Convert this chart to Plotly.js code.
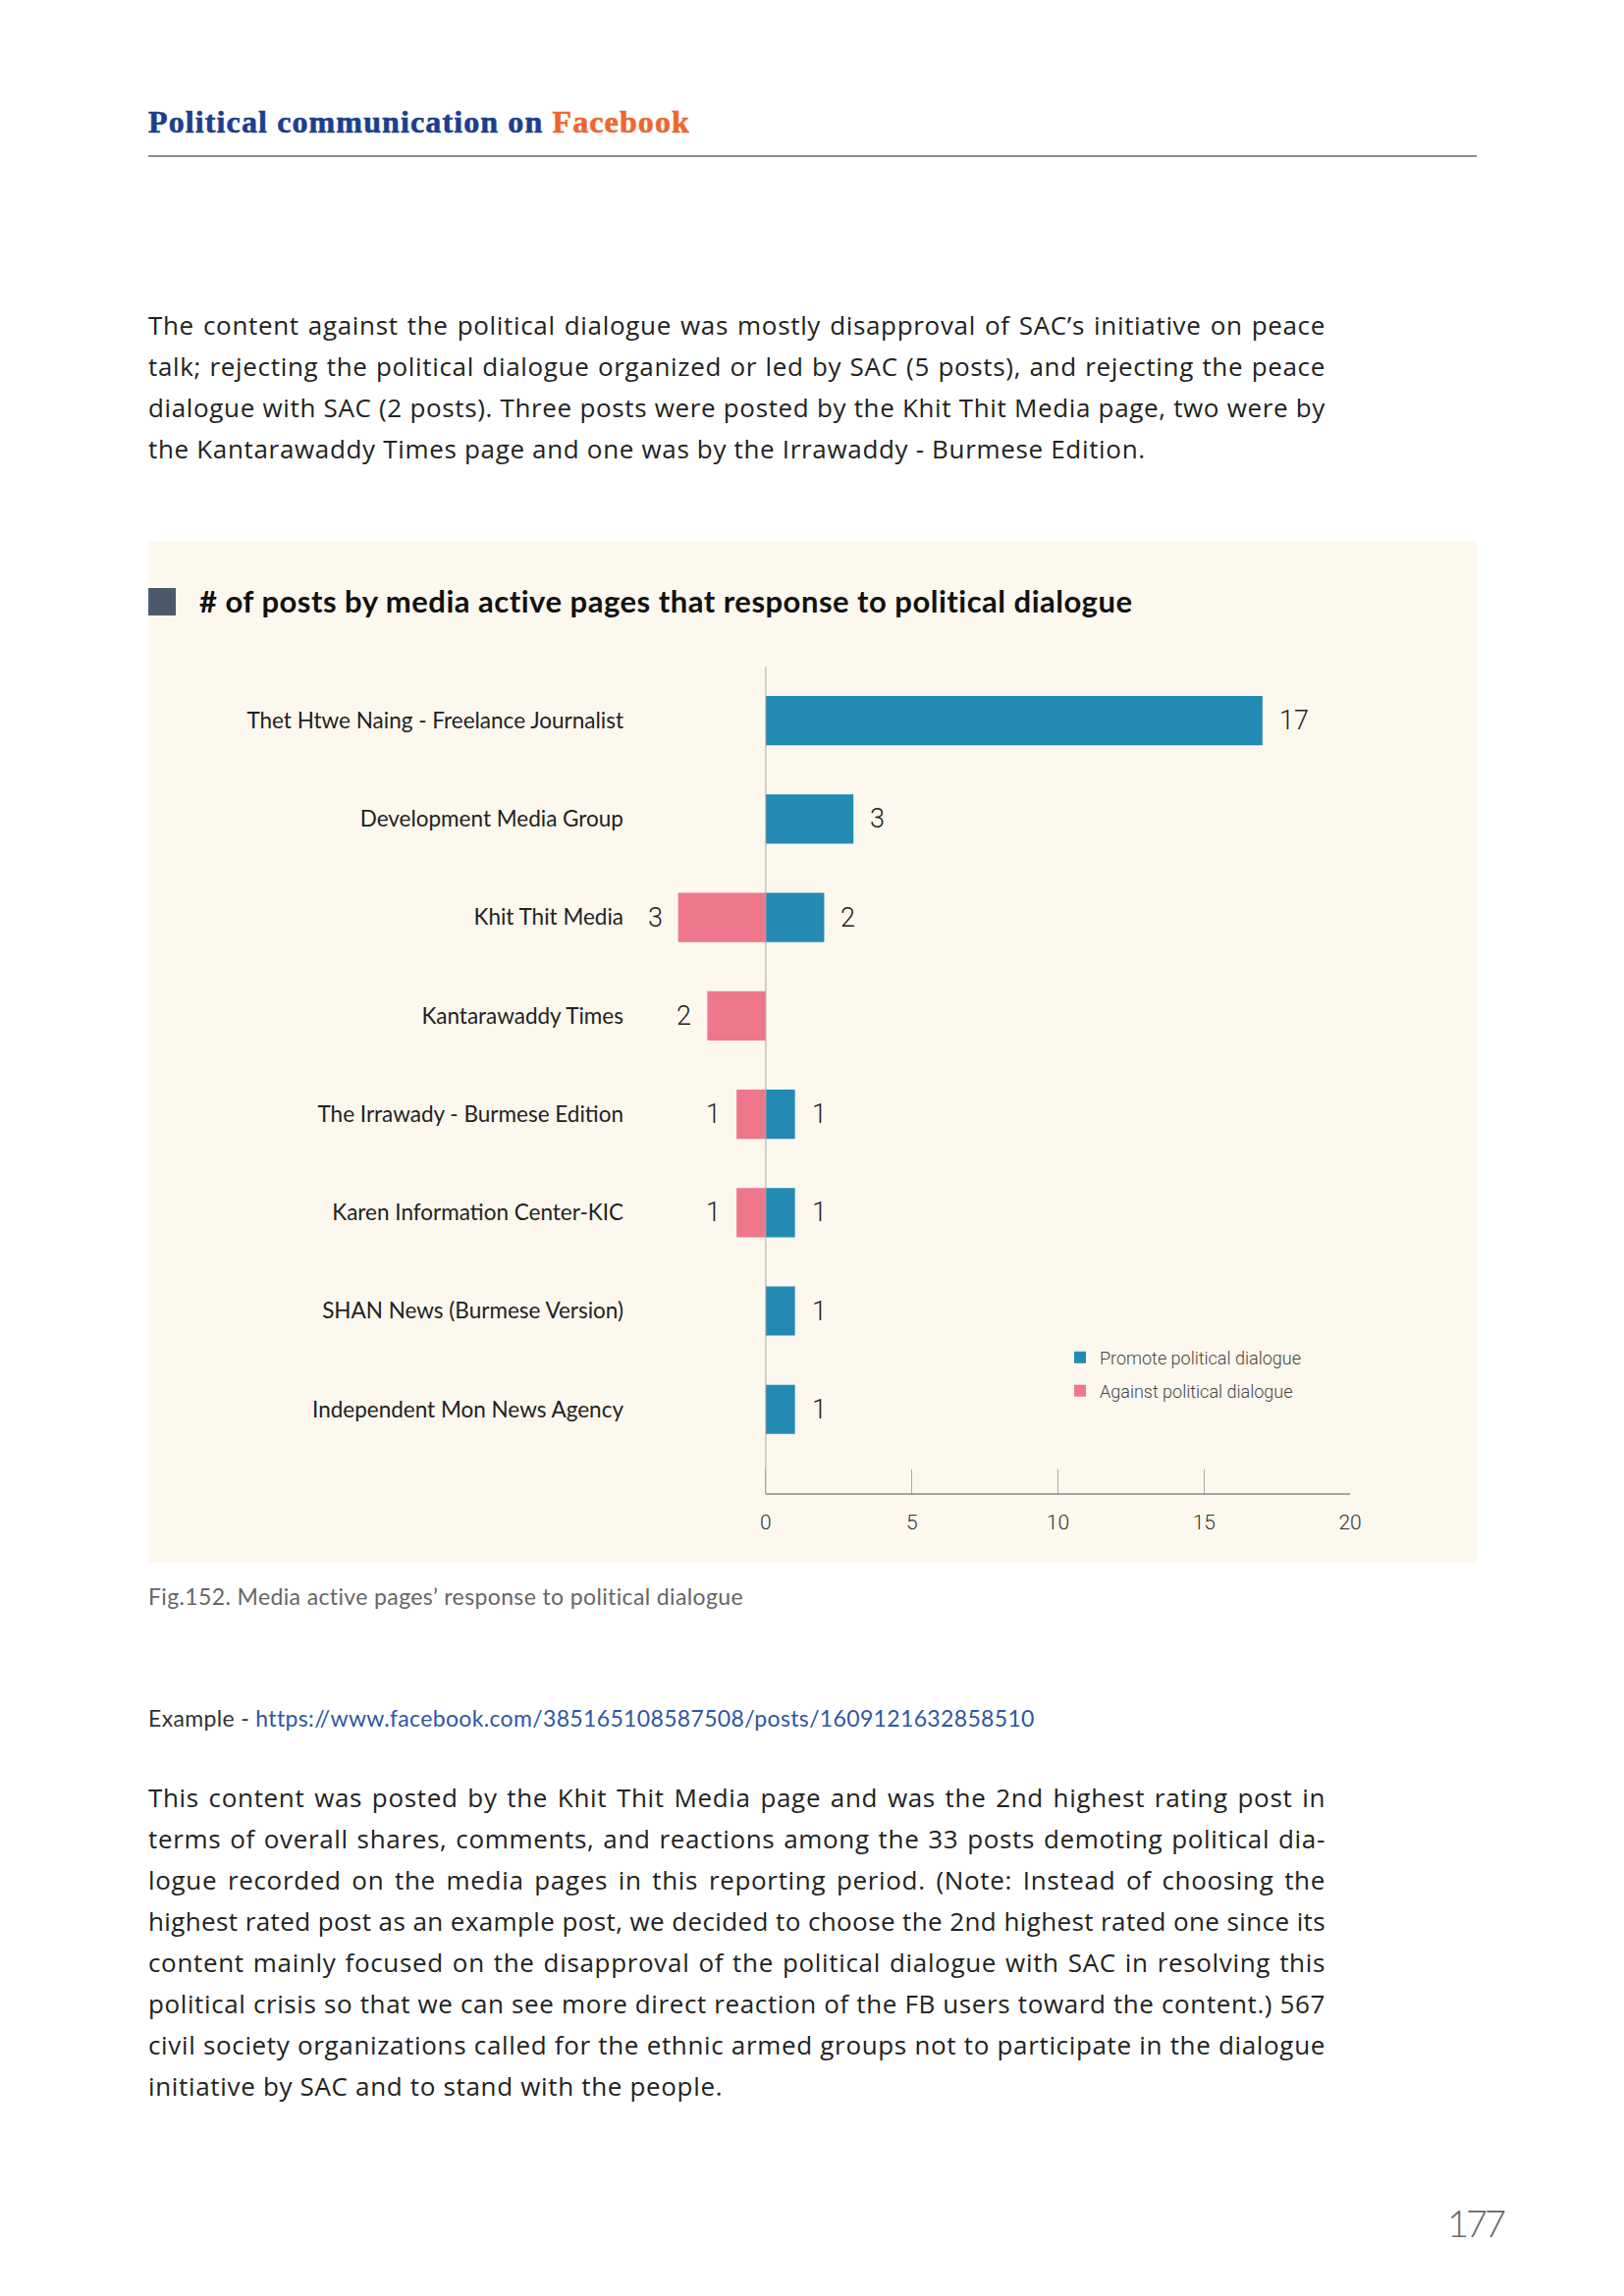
<!DOCTYPE html>
<html>
<head>
<meta charset="utf-8">
<script src="https://cdn.plot.ly/plotly-3.0.1.min.js"></script>
<style>
  html, body { margin:0; padding:0; background:#ffffff; }
  body { width:1654px; height:2339px; position:relative; overflow:hidden; font-family: Lato, "Noto Sans", sans-serif; color:#222; }
  .abs { position:absolute; white-space:nowrap; }
  .hdr { left:151px; top:108px; font-family:"Liberation Serif", "DejaVu Serif", serif; font-weight:bold; font-size:32px; line-height:32px; color:#1b3f8e; -webkit-text-stroke:0.6px #1b3f8e; }
  .hdr .fb { color:#ef6530; -webkit-text-stroke:0.6px #ef6530; }
  .rule { left:151px; top:158px; width:1353px; height:2px; background:#8a8a8a; }
  .ln { position:absolute; left:151px; width:1199px; font-family:"Open Sans", Lato, sans-serif; font-size:26px; line-height:42px; height:42px; white-space:nowrap; color:#222; }
  .jl { text-align:justify; text-align-last:justify; }
  .cap { left:151px; top:1611px; font-size:23px; line-height:30px; color:#666; }
  .ex { left:151px; top:1735px; font-size:23px; line-height:30px; color:#333; }
  .ex a { color:#2f55a4; text-decoration:none; }
  .pg { left:1474px; top:2240px; font-size:38px; line-height:48px; color:#666; font-weight:300; }
  #chart { position:absolute; left:151px; top:551px; width:1353px; height:1041px; }
</style>
</head>
<body>
<div class="abs hdr" id="hdr">Political communication on <span class="fb">Facebook</span></div>
<div class="abs rule"></div>

<div class="ln jl" style="top:310px">The content against the political dialogue was mostly disapproval of SAC’s initiative on peace</div>
<div class="ln jl" style="top:352px">talk; rejecting the political dialogue organized or led by SAC (5 posts), and rejecting the peace</div>
<div class="ln jl" style="top:394px">dialogue with SAC (2 posts). Three posts were posted by the Khit Thit Media page, two were by</div>
<div class="ln" id="p1last" style="top:436px">the Kantarawaddy Times page and one was by the Irrawaddy - Burmese Edition.</div>

<div id="chart"></div>

<div class="abs cap" id="cap">Fig.152. Media active pages’ response to political dialogue</div>
<div class="abs ex" id="ex">Example - <a>https://www.facebook.com/385165108587508/posts/1609121632858510</a></div>

<div class="ln jl" style="top:1810px">This content was posted by the Khit Thit Media page and was the 2nd highest rating post in</div>
<div class="ln jl" style="top:1852px">terms of overall shares, comments, and reactions among the 33 posts demoting political dia-</div>
<div class="ln jl" style="top:1894px">logue recorded on the media pages in this reporting period. (Note: Instead of choosing the</div>
<div class="ln jl" style="top:1936px">highest rated post as an example post, we decided to choose the 2nd highest rated one since its</div>
<div class="ln jl" style="top:1978px">content mainly focused on the disapproval of the political dialogue with SAC in resolving this</div>
<div class="ln jl" style="top:2020px">political crisis so that we can see more direct reaction of the FB users toward the content.) 567</div>
<div class="ln jl" style="top:2062px">civil society organizations called for the ethnic armed groups not to participate in the dialogue</div>
<div class="ln" id="p2last" style="top:2104px">initiative by SAC and to stand with the people.</div>

<div class="abs pg" id="pg">177</div>

<script>
// ---- data ----
const categories = [
  "Thet Htwe Naing - Freelance Journalist",
  "Development Media Group",
  "Khit Thit Media",
  "Kantarawaddy Times",
  "The Irrawady - Burmese Edition",
  "Karen Information Center-KIC",
  "SHAN News (Burmese Version)",
  "Independent Mon News Agency"
];
const promoteValues = [17, 3, 2, 0, 1, 1, 1, 1];
const againstValues = [0, 0, 3, 2, 1, 1, 0, 0];
const seriesNames = ["Promote political dialogue", "Against political dialogue"];
const xTickValues = [0, 5, 10, 15, 20];
const chartTitle = "# of posts by media active pages that response to political dialogue";

// ---- text fitting helpers (typography only) ----
const ctx = document.createElement("canvas").getContext("2d");
function natW(el) {
  const cs = getComputedStyle(el);
  ctx.font = cs.fontWeight + " " + cs.fontSize + " " + cs.fontFamily;
  return ctx.measureText(el.textContent).width;
}
function fitTo(el, target) {
  const n = el.textContent.length;
  el.style.letterSpacing = ((target - natW(el)) / n).toFixed(3) + "px";
}
const p1 = document.getElementById("p1last"), p2 = document.getElementById("p2last");
const ls1 = (1016 - natW(p1)) / p1.textContent.length;
const ls2 = (585 - natW(p2)) / p2.textContent.length;
const bodyLs = (ls1 + ls2) / 2;
document.querySelectorAll(".ln").forEach(el => {
  const n = el.textContent.length;
  const w0 = natW(el);
  let ls = bodyLs;
  if (el.classList.contains("jl") && w0 + n * ls > 1197) ls = (1197 - w0) / n;
  el.style.letterSpacing = ls.toFixed(3) + "px";
});
fitTo(document.getElementById("hdr"), 552);
fitTo(document.getElementById("cap"), 607);
fitTo(document.getElementById("ex"), 902);
fitTo(document.getElementById("pg"), 57);

// ---- styles ----
const BLUE = "#238ab4";
const PINK = "#ef778c";
const BG = "#fcf8ee";

const promoteX = promoteValues.map(v => v > 0 ? v : null);
const againstX = againstValues.map(v => v > 0 ? -v : null);

const traces = [
  {
    type: "bar", orientation: "h", name: seriesNames[0],
    y: categories, x: promoteX, width: 0.5,
    marker: { color: BLUE, line: { width: 0 } },
    hoverinfo: "skip", legend: "legend"
  },
  {
    type: "bar", orientation: "h", name: seriesNames[1],
    y: categories, x: againstX, width: 0.5,
    marker: { color: PINK, line: { width: 0 } },
    hoverinfo: "skip", legend: "legend2"
  }
];

const labelFont = { family: "Roboto, 'Liberation Sans', sans-serif", size: 27, color: "#222", weight: 300 };
const annotations = [];
categories.forEach((c, i) => {
  if (promoteValues[i] > 0) {
    annotations.push({ x: promoteValues[i], y: c, xref: "x", yref: "y", text: String(promoteValues[i]),
      showarrow: false, xanchor: "left", yanchor: "middle", xshift: 15, font: labelFont });
  }
  if (againstValues[i] > 0) {
    annotations.push({ x: -againstValues[i], y: c, xref: "x", yref: "y", text: String(againstValues[i]),
      showarrow: false, xanchor: "right", yanchor: "middle", xshift: -14, font: labelFont });
  }
});

const legendFont = { family: "Roboto, 'Liberation Sans', sans-serif", size: 18, color: "#444", weight: 300 };
const titleFont = { family: "Lato, 'Noto Sans', sans-serif", size: 31, color: "#111", weight: 700 };

const layout = {
  width: 1353, height: 1041,
  paper_bgcolor: BG, plot_bgcolor: BG,
  margin: { l: 495, r: 128, t: 128, b: 70, pad: 0 },
  barmode: "relative",
  showlegend: true,
  title: {
    text: chartTitle,
    xref: "container", yref: "container",
    x: 0.0384, xanchor: "left", y: 0.9404, yanchor: "middle",
    font: titleFont
  },
  xaxis: {
    range: [-4.5, 20.03], tickvals: xTickValues, ticktext: xTickValues.map(String),
    ticks: "inside", ticklen: 25, tickwidth: 1, tickcolor: "#a8a8a8",
    showgrid: false, zeroline: false, showline: false,
    ticklabelstandoff: 14,
    tickfont: { family: "Roboto, 'Liberation Sans', sans-serif", size: 21, color: "#333", weight: 300 },
    fixedrange: true
  },
  yaxis: {
    type: "category", categoryorder: "array", categoryarray: categories,
    range: [7.86, -0.55],
    ticks: "", showgrid: false, zeroline: false, showline: false,
    ticklabelstandoff: 10,
    tickfont: { family: "Lato, 'Noto Sans', sans-serif", size: 22.5, color: "#222" },
    fixedrange: true
  },
  legend: {
    x: 0.5945, xanchor: "left", y: 0.1649, yanchor: "middle",
    bgcolor: "rgba(0,0,0,0)", font: legendFont, itemclick: false, itemdoubleclick: false
  },
  legend2: {
    x: 0.5945, xanchor: "left", y: 0.1246, yanchor: "middle",
    bgcolor: "rgba(0,0,0,0)", font: legendFont, itemclick: false, itemdoubleclick: false
  },
  shapes: [
    { type: "line", xref: "x", yref: "paper", x0: 0, x1: 0, y0: 0, y1: 1,
      line: { color: "#a8a8a8", width: 1 }, layer: "above" },
    { type: "line", xref: "x", yref: "paper", x0: 0, x1: 20, y0: 0, y1: 0,
      line: { color: "#8a8a8a", width: 1.5 }, layer: "above" },
    { type: "rect", xref: "paper", yref: "paper", x0: -0.678, x1: -0.6397, y0: 1.0617, y1: 1.0949,
      fillcolor: "#4b596a", line: { width: 0 } }
  ],
  annotations: annotations
};

Plotly.newPlot("chart", traces, layout, { displayModeBar: false, staticPlot: true }).then(() => {
  const t = document.querySelector("#chart .gtitle");
  if (t) {
    ctx.font = "700 31px Lato";
    const w0 = ctx.measureText(chartTitle).width;
    t.style.letterSpacing = ((953 - w0) / chartTitle.length).toFixed(3) + "px";
  }
});
</script>
</body>
</html>
